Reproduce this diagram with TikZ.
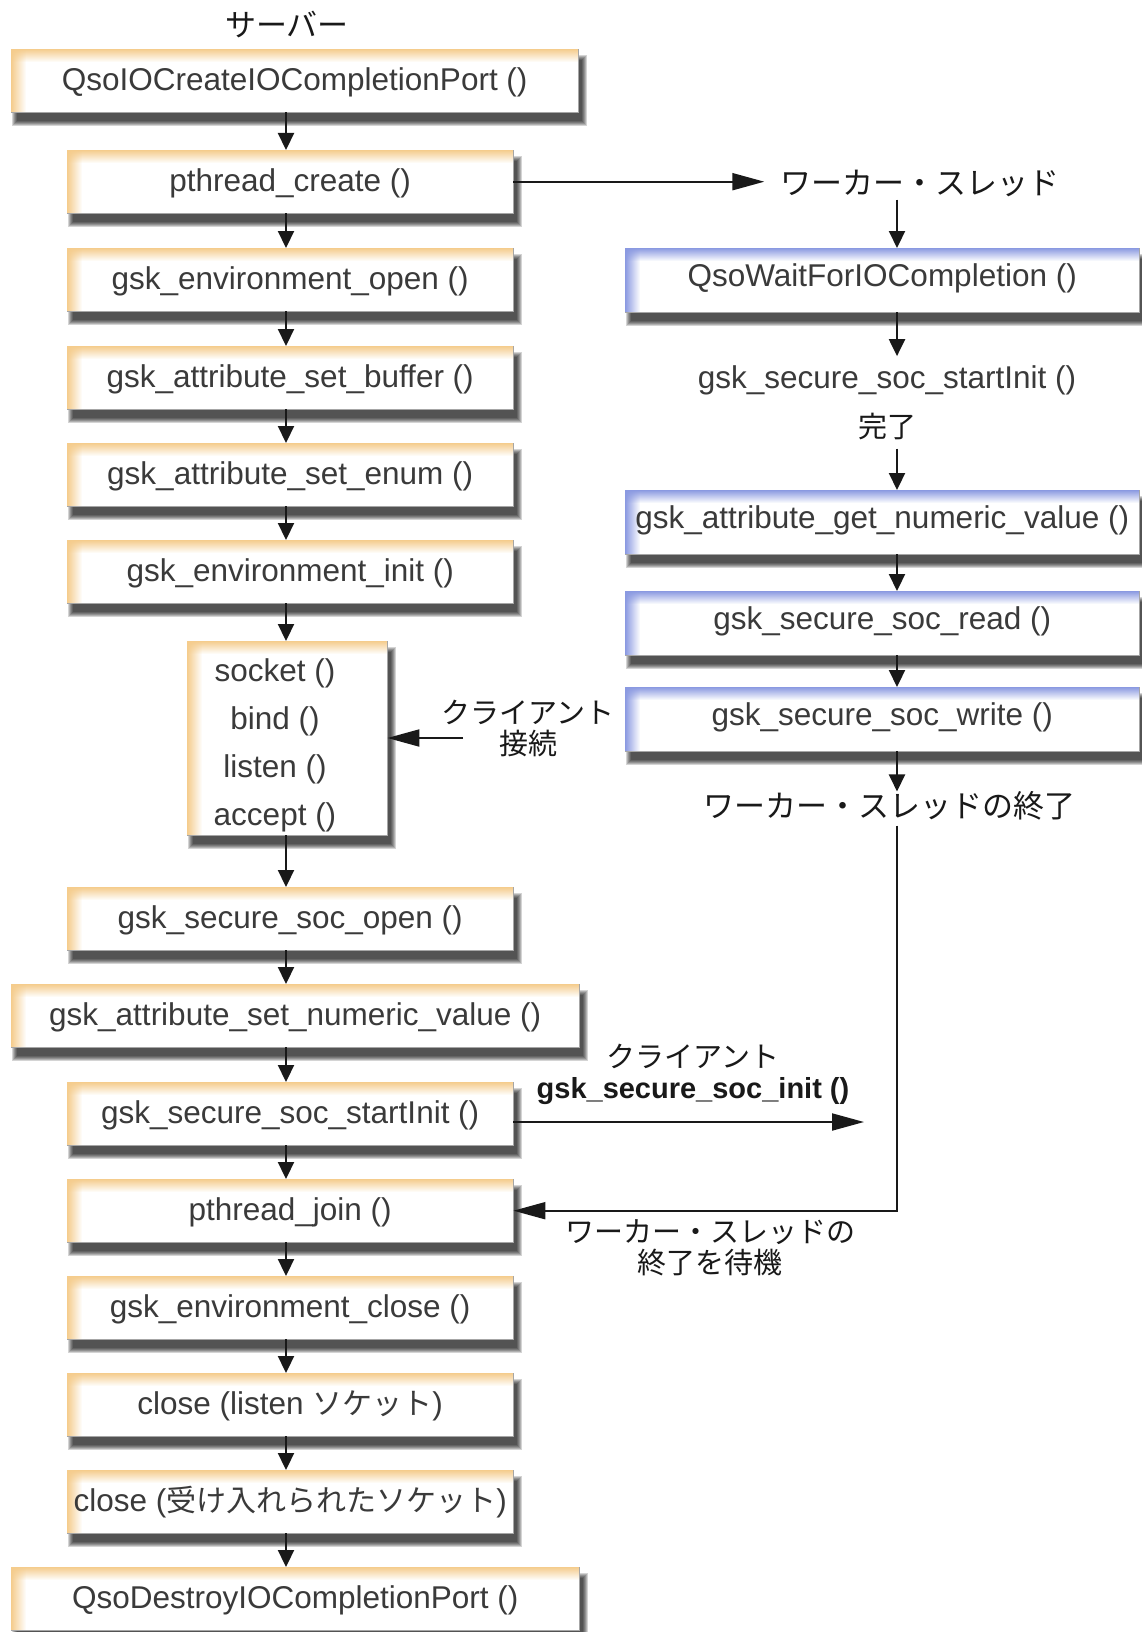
\documentclass[tikz,border=0pt]{standalone}
\usepackage{fontspec}
\setmainfont{Liberation Sans}
\newfontfamily\jp{Noto Sans CJK JP}
\usetikzlibrary{arrows.meta,fadings}
\definecolor{edgeO}{RGB}{245,204,140}
\definecolor{edgeB}{RGB}{138,153,225}
\definecolor{txt}{RGB}{58,58,58}
\definecolor{ink}{RGB}{25,25,25}
\tikzset{
  boxtext/.style={inner sep=0pt, anchor=north west, text=txt, font=\fontsize{31.5}{48}\selectfont},
  edgeOtext/.style={text height=26pt, text depth=6pt},
  edgeBtext/.style={text height=21pt, text depth=8pt},
  lbl/.style={inner sep=0pt, text=ink, align=center},
  jplbl/.style={lbl, font=\jp\fontsize{29}{31}\selectfont},
  jpbig/.style={lbl, font=\jp\fontsize{31}{31}\selectfont},
  latlbl/.style={lbl, text=txt, font=\fontsize{31.5}{48}\selectfont},
  varrow/.style={draw=ink, line width=2.2pt, -{Triangle[length=17pt,width=16pt]}},
  harrow/.style={draw=ink, line width=2pt, -{Triangle[length=32pt,width=17pt]}}
}
% name, x, y, width, height, edge colour, text
\newcommand\fbx[7]{%
  \foreach \k in {0,...,5}{\fill[black,opacity=0.17] (#2+1+\k,#3+6+\k) rectangle (#2+#4+9-\k,#3+#5+14-\k);}
  \fill[white] (#2,#3) rectangle (#2+#4,#3+#5);
  \fill[#6,path fading=south] (#2,#3) rectangle (#2+#4,#3+13);
  \fill[#6,path fading=east] (#2,#3) rectangle (#2+15,#3+#5);
  \draw[black!35,line width=0.8pt] (#2,#3+#5) -- (#2+#4,#3+#5) -- (#2+#4,#3);
  \node[boxtext, #6text, minimum width=#4pt, minimum height=#5pt] (#1) at (#2,#3) {#7};
}
\begin{document}
\begin{tikzpicture}[x=1pt,y=-1pt]
\useasboundingbox[fill=white] (0,0) rectangle (1142,1632);
\coordinate (colL) at (286,0);
\coordinate (colR) at (897,0);

% server column
\node[jpbig] (server) at (287,25) {サーバー};
\fbx{b1}{11}{49}{567}{63}{edgeO}{QsoIOCreateIOCompletionPort ()}
\fbx{b2}{67}{150}{446}{63}{edgeO}{pthread\_create ()}
\fbx{b3}{67}{248}{446}{63}{edgeO}{gsk\_environment\_open ()}
\fbx{b4}{67}{346}{446}{63}{edgeO}{gsk\_attribute\_set\_buffer ()}
\fbx{b5}{67}{443}{446}{63}{edgeO}{gsk\_attribute\_set\_enum ()}
\fbx{b6}{67}{540}{446}{63}{edgeO}{gsk\_environment\_init ()}
\fbx{b7}{187}{641}{200}{194}{edgeO}{}
\node[latlbl] (socktxt) at (275,745) {socket ()\\bind ()\\listen ()\\accept ()};
\fbx{b8}{67}{887}{446}{63}{edgeO}{gsk\_secure\_soc\_open ()}
\fbx{b9}{11}{984}{568}{63}{edgeO}{gsk\_attribute\_set\_numeric\_value ()}
\fbx{b10}{67}{1082}{446}{63}{edgeO}{gsk\_secure\_soc\_startInit ()}
\fbx{b11}{67}{1179}{446}{63}{edgeO}{pthread\_join ()}
\fbx{b12}{67}{1276}{446}{63}{edgeO}{gsk\_environment\_close ()}
\fbx{b13}{67}{1373}{446}{63}{edgeO}{close (listen {\jp\fontsize{30}{30}\selectfont ソケット})}
\fbx{b14}{67}{1470}{446}{63}{edgeO}{close ({\jp\fontsize{30}{30}\selectfont 受け入れられたソケット})}
\fbx{b15}{11}{1567}{568}{63}{edgeO}{QsoDestroyIOCompletionPort ()}

% worker column
\node[jpbig] (wt) at (920,183) {ワーカー・スレッド};
\fbx{wait}{625}{248}{514}{64}{edgeB}{QsoWaitForIOCompletion ()}
\node[latlbl] (si) at (887,380) {gsk\_secure\_soc\_startInit ()};
\node[jplbl] (done) at (887,427) {完了};
\fbx{getnum}{625}{490}{514}{64}{edgeB}{gsk\_attribute\_get\_numeric\_value ()}
\fbx{read}{625}{591}{514}{64}{edgeB}{gsk\_secure\_soc\_read ()}
\fbx{write}{625}{687}{514}{64}{edgeB}{gsk\_secure\_soc\_write ()}
\node[jpbig] (wend) at (889,806) {ワーカー・スレッドの終了};

% side labels
\node[jplbl] (cconn) at (528,728) {クライアント\\接続};
\node[jplbl] (cinit) at (693,1074) {クライアント\\{\rmfamily\bfseries gsk\_secure\_soc\_init ()}};
\node[jplbl] (wwait) at (710,1248) {ワーカー・スレッドの\\終了を待機};

% connectors
\foreach \a/\b in {b1/b2,b2/b3,b3/b4,b4/b5,b5/b6,b6/b7,b7/b8,b8/b9,b9/b10,b10/b11,b11/b12,b12/b13,b13/b14,b14/b15}
  \draw[varrow] (\a.south -| colL) -- (\b.north -| colL);
\draw[harrow, shorten >=16pt] (b2.east) -- (b2.east -| wt.west);
\draw[varrow, shorten <=3pt] (wt.south -| colR) -- (wait.north -| colR);
\draw[varrow, shorten >=9pt] (wait.south -| colR) -- (si.north -| colR);
\draw[varrow, shorten <=8pt] (done.south -| colR) -- (getnum.north -| colR);
\draw[varrow] (getnum.south -| colR) -- (read.north -| colR);
\draw[varrow] (read.south -| colR) -- (write.north -| colR);
\draw[varrow] (write.south -| colR) -- (wend.north -| colR);
\draw[harrow, shorten <=5pt] (wend.south -| colR) |- (b11.east);
\coordinate (cctail) at (463,738);
\draw[harrow] (cctail) -- (cctail -| b7.east);
\coordinate (initend) at (864,1122);
\draw[harrow] (initend -| b10.east) -- (initend);
\end{tikzpicture}
\end{document}
